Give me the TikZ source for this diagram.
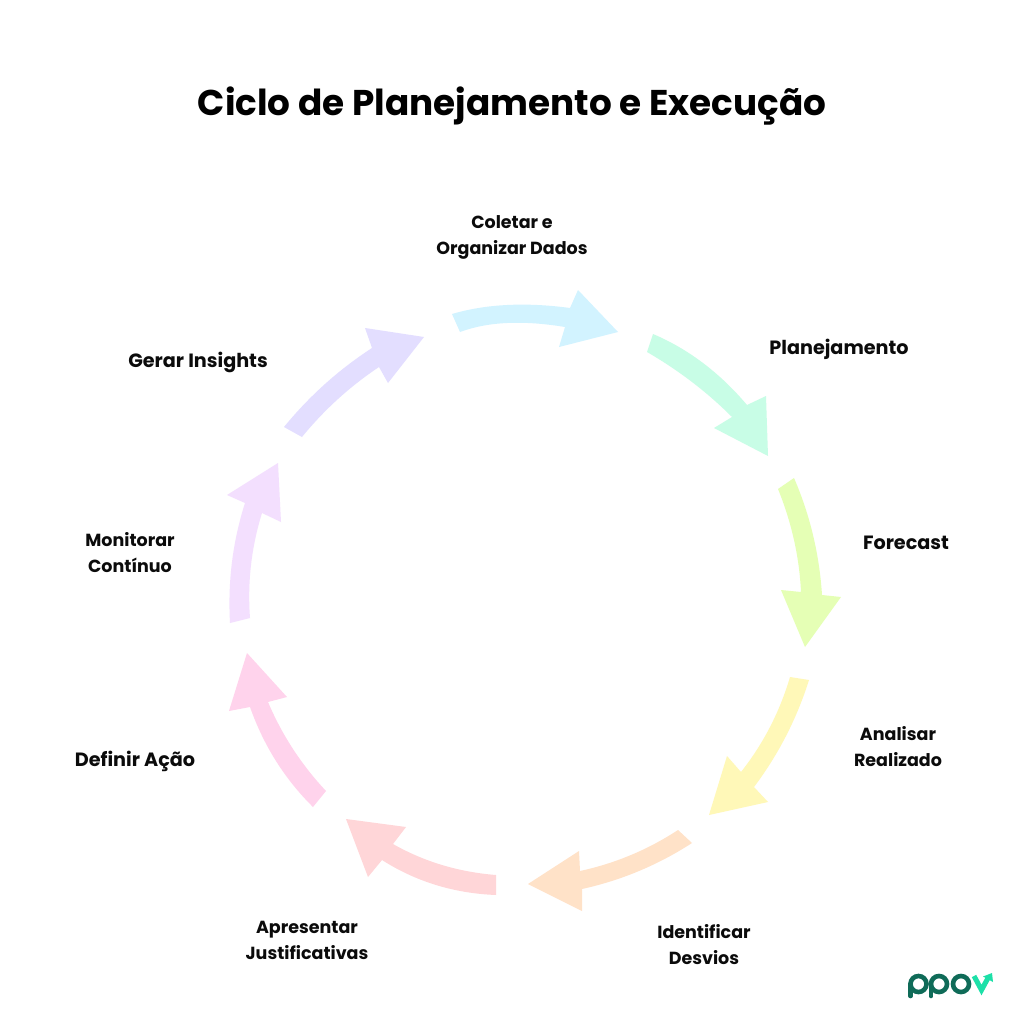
\documentclass[tikz,border=0pt]{standalone}
\usepackage{fontspec}
\usetikzlibrary{calc}
\setmainfont{Poppins}
\definecolor{ttl}{HTML}{000000}
\definecolor{lbl}{HTML}{0B0B0B}
\definecolor{c1}{HTML}{D2F3FF}
\definecolor{c2}{HTML}{C8FDE6}
\definecolor{c3}{HTML}{E5FFB5}
\definecolor{c4}{HTML}{FFF8B8}
\definecolor{c5}{HTML}{FFE2C8}
\definecolor{c6}{HTML}{FFD6D8}
\definecolor{c7}{HTML}{FFD3EC}
\definecolor{c8}{HTML}{F3DFFE}
\definecolor{c9}{HTML}{E3DEFF}
\definecolor{logod}{HTML}{0F6B58}
\definecolor{logol}{HTML}{1DE0A8}
\tikzset{
  titlenode/.style={font=\fontsize{35.8}{40}\selectfont\bfseries,text=ttl,inner sep=0pt},
  lab/.style={font=\fontsize{17.5}{26}\selectfont\bfseries,text=lbl,align=center,inner sep=0pt},
  labone/.style={font=\fontsize{19.2}{26}\selectfont\bfseries,text=lbl,align=center,inner sep=0pt},
  logostroke/.style={draw=logod,line width=4.6pt,fill=none},
}
% curve from #1 through #2 to #3
\newcommand{\qcv}[3]{.. controls ($1.3333*#2-0.3333*#3$) and ($1.3333*#2-0.3333*#1$) .. #3}
\begin{document}
\begin{tikzpicture}[x=1pt,y=-1pt]
\useasboundingbox (0,0) rectangle (1024,1024);
\fill[white] (0,0) rectangle (1024,1024);
\fill[c1] (452,314) \qcv{(452,314)}{(507,305)}{(570,308)} -- (578,290) -- (618,332) -- (559,347) -- (565,327) \qcv{(565,327)}{(507,323)}{(460,332)} -- cycle;
\fill[c2] (653,334) \qcv{(653,334)}{(703,363)}{(747,405)} -- (766,396) -- (768,456) -- (714,428) -- (732,417) \qcv{(732,417)}{(692,382)}{(647,352)} -- cycle;
\fill[c3] (794,478) \qcv{(794,478)}{(813,535)}{(822,595)} -- (841,597) -- (805,647) -- (781,590) -- (801,592) \qcv{(801,592)}{(794,540)}{(778,489)} -- cycle;
\fill[c4] (809,680) \qcv{(809,680)}{(786,736)}{(754,787)} -- (768,802) -- (709,815) -- (727,756) -- (741,772) \qcv{(741,772)}{(770,727)}{(790,677)} -- cycle;
\fill[c5] (692,843) \qcv{(692,843)}{(639,871)}{(582,889)} -- (582,911) -- (528,884) -- (579,851) -- (580,871) \qcv{(580,871)}{(631,855)}{(678,830)} -- cycle;
\fill[c6] (496,895) \qcv{(496,895)}{(436,885)}{(382,860)} -- (368,877) -- (346,819) -- (406,827) -- (393,844) \qcv{(393,844)}{(442,865)}{(496,875)} -- cycle;
\fill[c7] (313,807) \qcv{(313,807)}{(276,761)}{(250,707)} -- (229,711) -- (247,653) -- (287,697) -- (268,702) \qcv{(268,702)}{(293,749)}{(326,791)} -- cycle;
\fill[c8] (230,623) \qcv{(230,623)}{(232,562)}{(245,503)} -- (227,495) -- (278,463) -- (281,522) -- (262,513) \qcv{(262,513)}{(251,565)}{(250,618)} -- cycle;
\fill[c9] (284,427) \qcv{(284,427)}{(325,384)}{(372,348)} -- (365,328) -- (424,337) -- (388,383) -- (379,367) \qcv{(379,367)}{(338,399)}{(302,437)} -- cycle;
\node[titlenode] (title) at (512,106) {Ciclo de Planejamento e Execução};
\node[lab] (coletar) at (512,237) {Coletar e\\Organizar Dados};
\node[labone] (plan) at (839,349) {Planejamento};
\node[labone] (fore) at (906,543) {Forecast};
\node[lab] (anal) at (898,747) {Analisar\\Realizado};
\node[lab] (iden) at (704,945) {Identificar\\Desvios};
\node[lab] (apre) at (307,940) {Apresentar\\Justificativas};
\node[labone] (defi) at (135,761) {Definir Ação};
\node[lab] (moni) at (130,553) {Monitorar\\Contínuo};
\node[labone] (gera) at (198,362) {Gerar Insights};
% logo
\draw[logostroke] (918.5,984) circle[radius=8];
\draw[logostroke] (939,984) circle[radius=8];
\draw[logostroke,line cap=round] (910.5,984) -- (910.5,996);
\draw[logostroke,line cap=round] (931,984) -- (931,996);
\draw[logostroke] (961,984) circle[radius=8];
\draw[draw=logol,line width=5pt] (974,976) -- (981.5,990) -- (988,978);
\fill[logol] (983,976.5) -- (992,973) -- (993,982) -- cycle;
\end{tikzpicture}
\end{document}
